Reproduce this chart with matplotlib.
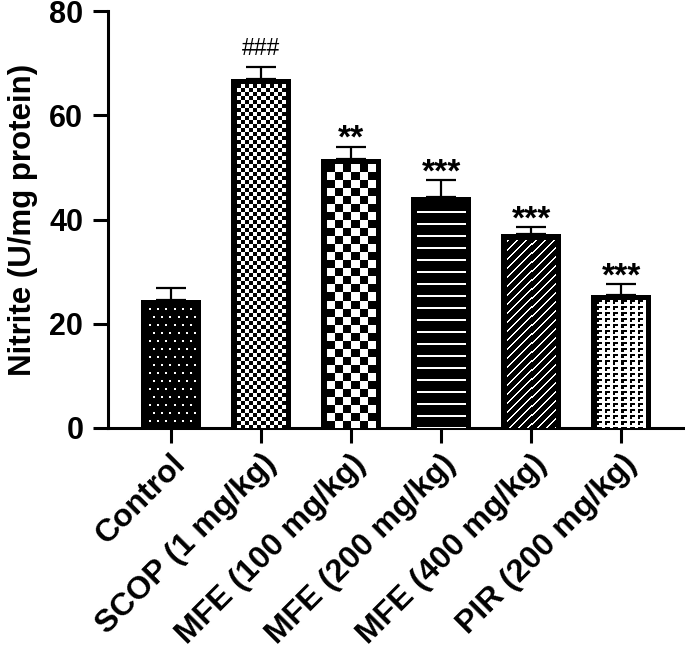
import numpy as np
import matplotlib
matplotlib.use("Agg")
import matplotlib.pyplot as plt

groups = ["Control", "SCOP (1 mg/kg)", "MFE (100 mg/kg)", "MFE (200 mg/kg)",
          "MFE (400 mg/kg)", "PIR (200 mg/kg)"]
nitrite = [24.5, 67.0, 51.7, 44.3, 37.2, 25.6]
sem = [2.4, 2.3, 2.3, 3.3, 1.4, 2.0]
marks = ["", "###", "**", "***", "***", "***"]

plt.rcParams["font.family"] = ["Liberation Sans", "DejaVu Sans"]
plt.rcParams["font.weight"] = "bold"


def tile_dots():
    t = np.ones((16, 8))
    t[2:4, 2:4] = 0
    t[10:12, 6:8] = 0
    return t


def tile_checker(n):
    t = np.zeros((2 * n, 2 * n))
    t[:n, :n] = 1
    t[n:, n:] = 1
    return t


def tile_hlines():
    t = np.ones((12, 4))
    t[8:10, :] = 0
    return t


def tile_diag():
    r, c = np.indices((9, 9))
    return np.where((r + c) % 9 < 2, 0.0, 1.0)


def tile_gamma():
    t = np.zeros((6, 8))
    t[0:2, 0:5] = 1
    t[0:4, 0:2] = 1
    return t


tiles = [tile_dots(), tile_checker(4), tile_checker(8), tile_hlines(),
         tile_diag(), tile_gamma()]

fig = plt.figure(figsize=(6.85, 6.52), dpi=100)
ax = fig.add_axes([0.1577, 0.3436, 0.8423, 0.6394])

x = np.arange(len(groups))
width = 0.667
bars = ax.bar(x, nitrite, width=width, color="black", linewidth=0, zorder=2)
ax.set_xlim(-0.7, 5.71)
ax.set_ylim(0, 80)

# pixel scale of the data axes, used to lay the fill textures 1:1
px_x = ax.transData.transform((1, 0))[0] - ax.transData.transform((0, 0))[0]
px_y = ax.transData.transform((0, 1))[1] - ax.transData.transform((0, 0))[1]
inset = 6

for xi, h, tile in zip(x, nitrite, tiles):
    x0 = xi - width / 2 + inset / px_x
    x1 = xi + width / 2 - inset / px_x
    y1 = h - inset / px_y
    w_px = int(round((x1 - x0) * px_x))
    h_px = int(round(y1 * px_y))
    reps = (h_px // tile.shape[0] + 1, w_px // tile.shape[1] + 1)
    img = np.tile(tile, reps)[:h_px, :w_px]
    ax.imshow(img, cmap="gray_r", vmin=0, vmax=1, interpolation="nearest",
              extent=(x0, x1, 0, y1), origin="upper", aspect="auto", zorder=3)

ax.set_xlim(-0.7, 5.71)
ax.set_ylim(0, 80)

ax.errorbar(x, nitrite, yerr=[np.zeros(len(sem)), sem], fmt="none",
            ecolor="black", elinewidth=1.6, capsize=10.8, capthick=1.6, zorder=1)

for xi, h, e, m in zip(x, nitrite, sem, marks):
    if not m:
        continue
    if m.startswith("#"):
        ax.annotate(m, (xi, h + e), xytext=(0, 5), textcoords="offset points",
                    ha="center", va="bottom", fontsize=16.5, fontweight="normal")
    else:
        ax.annotate(m, (xi, h + e), xytext=(0, -1), textcoords="offset points",
                    ha="center", va="baseline", fontsize=24, fontweight="bold")

for s in ["top", "right"]:
    ax.spines[s].set_visible(False)
for s in ["left", "bottom"]:
    ax.spines[s].set_linewidth(2.2)

ax.set_yticks([0, 20, 40, 60, 80])
ax.tick_params(axis="both", length=10.8, width=2.2, labelsize=22)
ax.tick_params(axis="y", pad=7)
ax.tick_params(axis="x", pad=4)
ax.set_xticks(x)
ax.set_xticklabels(groups, rotation=45, ha="right", rotation_mode="anchor",
                   fontsize=23, fontweight="bold")
ax.set_ylabel("Nitrite (U/mg protein)", fontsize=22.5, fontweight="bold",
              labelpad=8)

fig.savefig("out.png", dpi=100)
